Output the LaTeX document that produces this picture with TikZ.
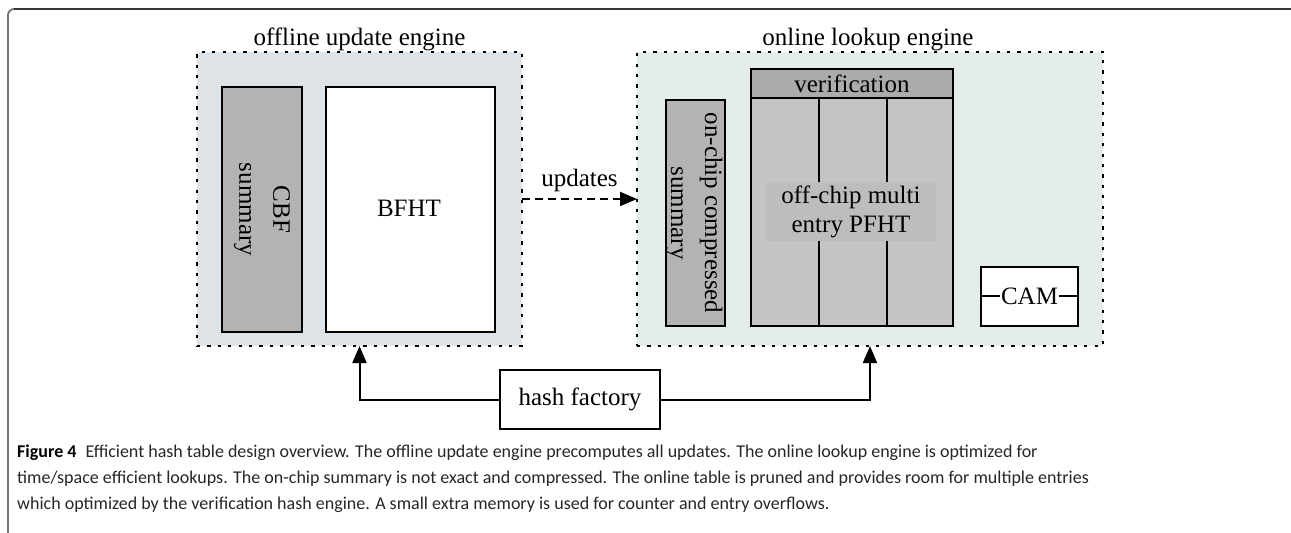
\documentclass[tikz,border=0pt]{standalone}
\usepackage{fontspec}
\setmainfont{Liberation Serif}
\newfontfamily\capfont{Carlito}
\usetikzlibrary{arrows.meta}
\definecolor{offfill}{HTML}{DDE3E6}
\definecolor{onfill}{HTML}{E5ECEC}
\definecolor{sumfill}{HTML}{B3B3B3}
\definecolor{verfill}{HTML}{ABABAB}
\definecolor{tabfill}{HTML}{C4C4C4}
\definecolor{lblfill}{HTML}{BDBDBD}
\definecolor{capgray}{HTML}{262626}
\tikzset{
  engine/.style={draw=black, dash pattern=on 3.2pt off 7.2pt, line width=2.4pt, inner sep=0pt, outer sep=0pt},
  blk/.style={draw=black, line width=2pt, inner sep=0pt, outer sep=0pt, align=center, font=\fontsize{25}{27}\selectfont},
  ttl/.style={font=\fontsize{25}{27}\selectfont, inner sep=0pt},
  arr/.style={line width=2pt, -{Triangle[length=17pt,width=14pt]}},
  captxt/.style={font=\capfont\fontsize{18}{20}\selectfont, text=capgray, anchor=base west, inner sep=0pt},
}
\begin{document}
\begin{tikzpicture}[x=1pt,y=-1pt]
\useasboundingbox (0,0) rectangle (1291,533);
% outer frame
\draw[draw=black!55, line width=1.8pt, rounded corners=6pt] (8,540) -- (8,9) -- (1300,9);
\draw[draw=black!78, line width=1.8pt] (14,9) -- (1300,9);
% engines
\node[engine, fill=offfill, minimum width=325pt, minimum height=294pt] (off) at (359.5,199) {};
\node[ttl, anchor=base] (offt) at (359.5,45) {offline update engine};
\node[engine, fill=onfill, minimum width=466pt, minimum height=294pt] (on) at (870,199) {};
\node[ttl, anchor=base] (ont) at (868,45) {online lookup engine};
% offline contents
\node[blk, fill=sumfill, minimum width=80pt, minimum height=245pt] (cbf) at (262,209.5) {};
\node[ttl, rotate=-90, align=center, font=\fontsize{25}{34}\selectfont] (cbft) at (262,209.5) {CBF\\summary};
\node[blk, fill=white, minimum width=169pt, minimum height=245pt] (bfht) at (410.5,209.5) {};
\node[ttl] (bfhtt) at (409,208) {BFHT};
% online contents
\node[blk, fill=sumfill, minimum width=59pt, minimum height=226pt] (onchip) at (695.5,213) {};
\node[ttl, rotate=-90, align=center, font=\fontsize{25}{34}\selectfont] (onchipt) at (694,213) {on-chip compressed\\summary};
\node[blk, fill=tabfill, minimum width=202pt, minimum height=228pt] (tab) at (852,212) {};
\node[blk, fill=verfill, minimum width=202pt, minimum height=29pt, anchor=south] (ver) at (tab.north) {verification};
\draw[line width=2pt] (819,98) -- (819,326);
\draw[line width=2pt] (887,98) -- (887,326);
\node[fill=lblfill, minimum width=170pt, minimum height=59pt, inner sep=0pt, align=center, font=\fontsize{25}{29}\selectfont] (pfht) at (851,211.5) {off-chip multi\\entry PFHT};
\node[blk, fill=white, minimum width=97pt, minimum height=59pt] (cam) at (1029.5,296.5) {};
\node[ttl, inner sep=1pt] (camt) at (1029.5,296) {CAM};
\draw[line width=2pt] (cam.west |- camt.west) -- (camt.west);
\draw[line width=2pt] (camt.east) -- (cam.east |- camt.east);
% hash factory
\node[blk, fill=white, minimum width=160pt, minimum height=59pt] (hash) at (580,399.5) {hash factory};
% connectors
\draw[arr, dash pattern=on 8pt off 5pt] (off.east) -- node[ttl, above=6pt] (updt) {updates} (on.west);
\draw[arr] (hash.west) -| (off.south);
\draw[arr] (hash.east) -| (on.south);
% caption
\node[captxt] (cap1) at (17,457) {{\bfseries\color{black}Figure 4}\hspace{0.5em}Efficient hash table design overview. The offline update engine precomputes all updates. The online lookup engine is optimized for};
\node[captxt] (cap2) at (17,483) {time/space efficient lookups. The on-chip summary is not exact and compressed. The online table is pruned and provides room for multiple entries};
\node[captxt] (cap3) at (17,509) {which optimized by the verification hash engine. A small extra memory is used for counter and entry overflows.};
\end{tikzpicture}
\end{document}
